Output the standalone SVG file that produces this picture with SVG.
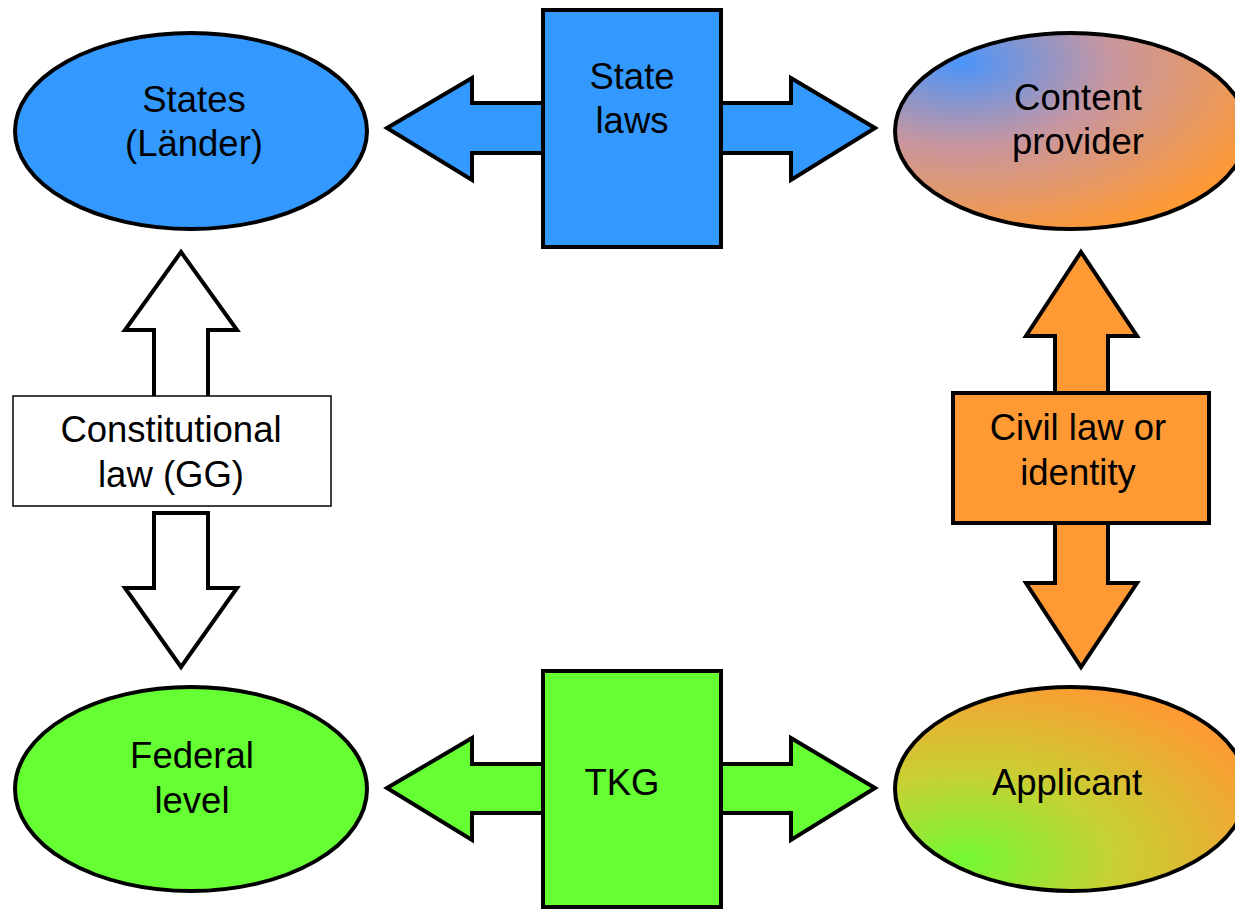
<svg xmlns="http://www.w3.org/2000/svg" width="1235" height="909" viewBox="0 0 1235 909">
<style>
text{font-family:"Liberation Sans",Arial,sans-serif;font-size:36.5px;fill:#000;text-anchor:middle}
.ol{stroke:#000;stroke-width:4;stroke-linejoin:miter}
.blue{fill:#3399FF}
.green{fill:#66FF33}
.orange{fill:#FF9933}
.white{fill:#FFFFFF}
</style>
<defs>
<radialGradient id="gCP" cx="0.19" cy="0.15" r="0.95" fx="0.19" fy="0.15">
<stop offset="0" stop-color="#4a94fa"/>
<stop offset="0.45" stop-color="#c8969f"/>
<stop offset="1" stop-color="#FF9933"/>
</radialGradient>
<radialGradient id="gAP" cx="0.2" cy="0.85" r="0.95" fx="0.2" fy="0.85">
<stop offset="0" stop-color="#72f834"/>
<stop offset="0.45" stop-color="#c8d033"/>
<stop offset="1" stop-color="#FF9933"/>
</radialGradient>
</defs>
<g id="connectors">
<polygon class="ol blue" points="387,128 472,78 472,103 545,103 545,153 472,153 472,180"/>
<polygon class="ol blue" points="875,128 791,78 791,103 719,103 719,153 791,153 791,180"/>
<polygon class="ol green" points="387,788 472,738 472,764 545,764 545,813 472,813 472,840"/>
<polygon class="ol green" points="875,788 791,738 791,764 719,764 719,813 791,813 791,840"/>
<polygon class="ol white" points="181,252 237,330 208,330 208,400 154,400 154,330 125,330"/>
<polygon class="ol white" points="154,513 208,513 208,588 237,588 181,667 125,588 154,588"/>
<polygon class="ol orange" points="1081,252 1137,336 1108,336 1108,395 1055,395 1055,336 1026,336"/>
<polygon class="ol orange" points="1055,522 1108,522 1108,583 1137,583 1081,667 1026,583 1055,583"/>
</g>
<g id="states">
<ellipse class="ol blue" cx="191" cy="131" rx="176" ry="98"/>
<text x="194" y="112">States</text>
<text x="194" y="156">(Länder)</text>
</g>
<g id="content-provider">
<ellipse class="ol" fill="url(#gCP)" cx="1071" cy="131" rx="176" ry="98"/>
<text x="1078" y="110">Content</text>
<text x="1078" y="154">provider</text>
</g>
<g id="federal-level">
<ellipse class="ol green" cx="191" cy="789" rx="176" ry="102"/>
<text x="192" y="768">Federal</text>
<text x="192" y="813">level</text>
</g>
<g id="applicant">
<ellipse class="ol" fill="url(#gAP)" cx="1071" cy="789" rx="176" ry="102"/>
<text x="1067" y="795">Applicant</text>
</g>
<g id="state-laws">
<rect class="ol blue" x="543" y="10" width="178" height="237"/>
<text x="632" y="89">State</text>
<text x="632" y="133">laws</text>
</g>
<g id="tkg">
<rect class="ol green" x="543" y="671" width="178" height="236"/>
<text x="622" y="795">TKG</text>
</g>
<g id="constitutional-law">
<rect x="13" y="396" width="318" height="110" fill="#fff" stroke="#000" stroke-width="1.5"/>
<text x="171" y="442">Constitutional</text>
<text x="171" y="487">law (GG)</text>
</g>
<g id="civil-law">
<rect class="ol orange" x="953" y="393" width="256" height="130"/>
<text x="1078" y="440">Civil law or</text>
<text x="1078" y="485">identity</text>
</g>
</svg>
